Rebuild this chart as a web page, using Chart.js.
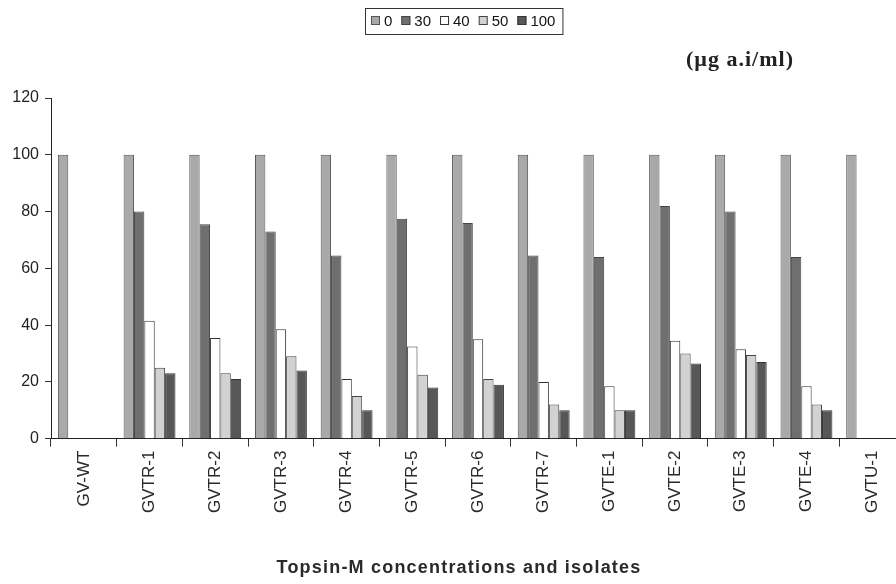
<!DOCTYPE html>
<html>
<head>
<meta charset="utf-8">
<script src="https://cdn.jsdelivr.net/npm/chart.js@4"></script>
<style>
  html, body { margin: 0; padding: 0; background: #fff; overflow: hidden; }
  #wrap { width: 910px; height: 584px; }
</style>
</head>
<body>
<div id="wrap"><canvas id="chartTopsin"></canvas></div>
<script>
// isolates on the x axis
const isolados = ['GV-WT', 'GVTR-1', 'GVTR-2', 'GVTR-3', 'GVTR-4', 'GVTR-5', 'GVTR-6',
    'GVTR-7', 'GVTE-1', 'GVTE-2', 'GVTE-3', 'GVTE-4', 'GVTU-1'];

// one series per Topsin-M concentration
const concLabels = ['0', '30', '40', '50', '100'];
const conc0 = [100, 100, 100, 100, 100, 100, 100, 100, 100, 100, 100, 100, 100];
const conc30 = [null, 80, 75.5, 73, 64.5, 77.5, 76, 64.5, 64, 82, 80, 64, null];
const conc40 = [null, 41.5, 35.5, 38.5, 21, 32.5, 35, 20, 18.5, 34.5, 31.5, 18.5, null];
const conc50 = [null, 25, 23, 29, 15, 22.5, 21, 12, 10, 30, 29.5, 12, null];
const conc100 = [null, 23, 21, 24, 10, 18, 19, 10, 10, 26.5, 27, 10, null];

const yTicks = [0, 20, 40, 60, 80, 100, 120];

const cores = ['#a9a9a9', '#6f6f6f', '#ffffff', '#d2d2d2', '#575757'];
const bordas = ['#555555', '#444444', '#333333', '#444444', '#333333'];

const series = [conc0, conc30, conc40, conc50, conc100];

// legenda com caixa + textos extras
const extras = {
    id: 'extras',
    afterDraw(chart) {
        const ctx = chart.ctx;
        ctx.save();
        // legend
        ctx.font = '15px Arial, "Liberation Sans", sans-serif';
        ctx.textBaseline = 'middle';
        let x = 371;
        const yc = 21;
        chart.data.datasets.forEach((ds) => {
            ctx.fillStyle = ds.backgroundColor;
            ctx.strokeStyle = ds.borderColor;
            ctx.lineWidth = 1;
            ctx.fillRect(x, yc - 5, 9, 9);
            ctx.strokeRect(x + 0.5, yc - 4.5, 8, 8);
            x += 13;
            ctx.fillStyle = '#111';
            ctx.fillText(ds.label, x, yc + 1);
            x += ctx.measureText(ds.label).width + 9;
        });
        ctx.strokeStyle = '#333';
        ctx.strokeRect(365.5, 8.5, x - 367, 26);

        // unit
        ctx.font = 'bold 22px "Liberation Serif", "DejaVu Serif", serif';
        ctx.letterSpacing = '1px';
        ctx.textAlign = 'center';
        ctx.fillStyle = '#222';
        ctx.fillText('(\u00b5g a.i/ml)', 740, 60);

        // x title
        ctx.font = 'bold 18px Arial, "Liberation Sans", sans-serif';
        ctx.letterSpacing = '1.2px';
        ctx.fillStyle = '#2a2a2a';
        ctx.fillText('Topsin-M concentrations and isolates', 459, 568);
        ctx.restore();
    }
};

document.addEventListener('DOMContentLoaded', () => {

    new Chart(document.getElementById('chartTopsin'), {
        type: 'bar',
        data: {
            labels: isolados,
            datasets: series.map((d, i) => ({
                label: concLabels[i],
                data: d,
                backgroundColor: cores[i],
                borderColor: bordas[i],
                borderWidth: 1,
                categoryPercentage: 0.79,
                barPercentage: 1.0
            }))
        },
        options: {
            responsive: true,
            maintainAspectRatio: false,
            animation: false,
            layout: { padding: { top: 98, right: 5, bottom: 67, left: 0 } },
            plugins: {
                legend: { display: false },
                tooltip: { enabled: false }
            },
            scales: {
                x: {
                    grid: { drawOnChartArea: false, tickLength: 8, color: '#333' },
                    border: { color: '#222', width: 1 },
                    ticks: {
                        minRotation: 90,
                        maxRotation: 90,
                        color: '#2a2a2a',
                        font: { size: 17, family: 'Arial, "Liberation Sans", sans-serif' },
                        padding: 4
                    }
                },
                y: {
                    min: 0,
                    max: 120,
                    afterBuildTicks: (scale) => { scale.ticks = yTicks.map(v => ({ value: v })); },
                    afterFit: (scale) => { scale.width = 51; },
                    grid: { drawOnChartArea: false, tickLength: 6, color: '#333' },
                    border: { color: '#222', width: 1 },
                    ticks: {
                        color: '#222',
                        padding: 6,
                        font: { size: 16, family: 'Arial, "Liberation Sans", sans-serif' }
                    }
                }
            }
        },
        plugins: [extras]
    });
});
</script>
</body>
</html>
